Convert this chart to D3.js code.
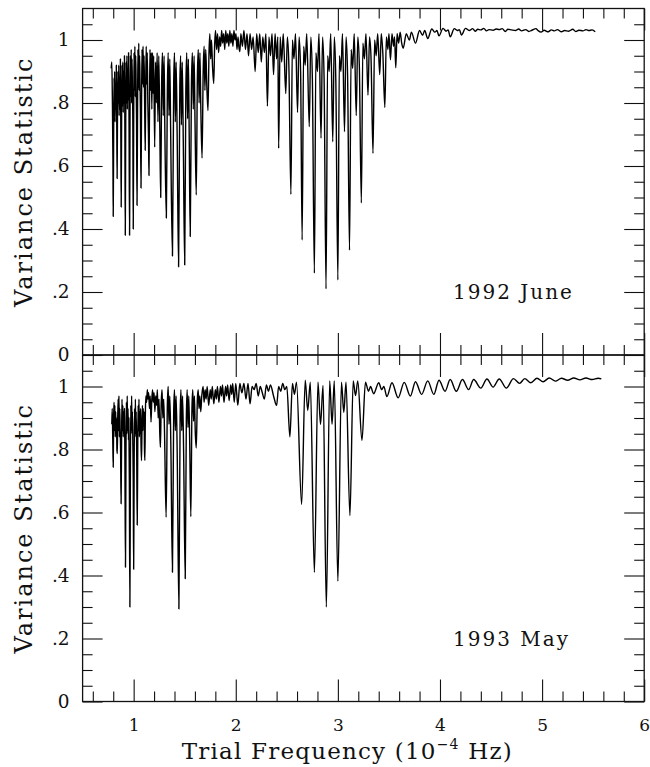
<!DOCTYPE html>
<html>
<head>
<meta charset="utf-8">
<script src="https://cdn.jsdelivr.net/npm/d3@7"></script>
<style>
  body { margin: 0; background: #fff; }
  svg { display: block; }
  text { font-family: "DejaVu Serif", serif; fill: #111; }
</style>
</head>
<body>
<div id="chart"></div>
<script>
'use strict';

// [trial frequency (1e-4 Hz), variance statistic]
const june1992 = [
  [0.780, 0.91], [0.786, 0.93], [0.792, 0.80], [0.797, 0.62], [0.800, 0.44], [0.804, 0.70], [0.808, 0.88],
  [0.811, 0.78], [0.814, 0.90], [0.818, 0.74], [0.822, 0.86], [0.826, 0.78], [0.830, 0.92], [0.834, 0.76],
  [0.838, 0.56], [0.842, 0.78], [0.846, 0.90], [0.850, 0.80], [0.854, 0.92], [0.858, 0.76], [0.862, 0.88],
  [0.866, 0.78], [0.870, 0.94], [0.874, 0.74], [0.878, 0.47], [0.882, 0.74], [0.886, 0.92], [0.890, 0.79],
  [0.894, 0.93], [0.898, 0.77], [0.902, 0.90], [0.906, 0.80], [0.910, 0.95], [0.914, 0.72], [0.918, 0.38],
  [0.922, 0.70], [0.926, 0.93], [0.930, 0.80], [0.934, 0.95], [0.938, 0.78], [0.942, 0.91], [0.946, 0.81],
  [0.950, 0.96], [0.955, 0.73], [0.960, 0.38], [0.964, 0.72], [0.968, 0.95], [0.972, 0.82], [0.976, 0.97],
  [0.980, 0.80], [0.984, 0.94], [0.988, 0.84], [0.992, 0.74], [0.996, 0.40], [1.000, 0.72], [1.004, 0.96],
  [1.008, 0.84], [1.012, 0.98], [1.016, 0.82], [1.020, 0.95], [1.024, 0.86], [1.028, 0.76], [1.033, 0.475],
  [1.038, 0.76], [1.042, 0.97], [1.046, 0.85], [1.050, 0.99], [1.054, 0.84], [1.058, 0.95], [1.062, 0.87],
  [1.066, 0.78], [1.072, 0.53], [1.077, 0.78], [1.082, 0.97], [1.087, 0.86], [1.092, 0.98], [1.097, 0.85],
  [1.102, 0.95], [1.107, 0.82], [1.113, 0.65], [1.118, 0.84], [1.123, 0.98], [1.128, 0.86], [1.133, 0.96],
  [1.139, 0.80], [1.145, 0.70], [1.150, 0.57], [1.155, 0.78], [1.160, 0.97], [1.166, 0.84], [1.172, 0.96],
  [1.178, 0.78], [1.184, 0.96], [1.190, 0.83], [1.196, 0.95], [1.206, 0.66], [1.214, 0.93], [1.222, 0.80],
  [1.230, 0.96], [1.238, 0.74], [1.246, 0.95], [1.256, 0.72], [1.265, 0.50], [1.274, 0.86], [1.282, 0.96],
  [1.290, 0.76], [1.298, 0.95], [1.306, 0.70], [1.320, 0.435], [1.330, 0.84], [1.338, 0.96], [1.346, 0.76],
  [1.354, 0.94], [1.362, 0.72], [1.380, 0.314], [1.392, 0.86], [1.400, 0.96], [1.408, 0.74], [1.416, 0.93],
  [1.426, 0.70], [1.440, 0.28], [1.452, 0.85], [1.460, 0.95], [1.468, 0.73], [1.476, 0.93], [1.486, 0.68],
  [1.500, 0.286], [1.511, 0.84], [1.520, 0.96], [1.528, 0.75], [1.536, 0.94], [1.544, 0.70], [1.554, 0.376],
  [1.566, 0.86], [1.575, 0.96], [1.584, 0.78], [1.592, 0.95], [1.601, 0.74], [1.613, 0.508], [1.624, 0.88],
  [1.633, 0.97], [1.641, 0.80], [1.649, 0.96], [1.658, 0.78], [1.670, 0.625], [1.681, 0.90], [1.690, 0.98],
  [1.698, 0.84], [1.706, 0.97], [1.716, 0.86], [1.728, 0.776], [1.738, 0.96], [1.746, 1.02], [1.754, 0.94],
  [1.762, 1.00], [1.772, 0.92], [1.784, 0.862], [1.794, 0.99], [1.802, 1.03], [1.812, 0.97], [1.822, 1.02],
  [1.832, 0.96], [1.842, 1.01], [1.852, 0.98], [1.862, 1.03], [1.872, 0.99], [1.882, 1.02], [1.892, 0.97],
  [1.902, 1.03], [1.912, 0.99], [1.922, 1.02], [1.932, 0.98], [1.942, 1.03], [1.952, 0.99], [1.962, 1.02],
  [1.972, 0.98], [1.982, 1.03], [1.992, 1.00], [2.002, 1.02], [2.012, 0.97], [2.022, 1.01], [2.030, 0.98],
  [2.040, 0.963], [2.050, 1.02], [2.065, 0.98], [2.080, 1.03], [2.095, 0.97], [2.110, 1.02], [2.125, 0.95],
  [2.140, 1.02], [2.155, 0.97], [2.170, 1.01], [2.190, 0.90], [2.205, 1.02], [2.220, 0.96], [2.235, 1.02],
  [2.250, 0.93], [2.265, 1.01], [2.280, 0.96], [2.295, 1.02], [2.310, 0.79], [2.325, 1.01], [2.340, 0.95],
  [2.355, 1.02], [2.370, 0.89], [2.385, 1.02], [2.400, 0.94], [2.412, 1.01], [2.420, 0.656], [2.435, 1.01],
  [2.450, 0.93], [2.465, 1.02], [2.490, 0.83], [2.505, 1.01], [2.520, 0.92], [2.540, 0.51], [2.555, 1.00],
  [2.570, 0.94], [2.585, 1.02], [2.605, 0.77], [2.620, 1.01], [2.635, 0.90], [2.650, 0.365], [2.665, 0.98],
  [2.680, 0.92], [2.695, 1.02], [2.720, 0.725], [2.735, 1.01], [2.750, 0.88], [2.770, 0.26], [2.785, 0.96],
  [2.800, 0.90], [2.815, 1.02], [2.835, 0.688], [2.850, 1.01], [2.865, 0.88], [2.884, 0.21], [2.900, 0.95],
  [2.915, 0.90], [2.930, 1.02], [2.950, 0.677], [2.965, 1.01], [2.980, 0.87], [3.000, 0.238], [3.015, 0.95],
  [3.030, 0.90], [3.045, 1.02], [3.065, 0.709], [3.080, 1.01], [3.095, 0.89], [3.114, 0.333], [3.130, 0.97],
  [3.145, 0.91], [3.160, 1.02], [3.180, 0.76], [3.195, 1.01], [3.210, 0.92], [3.230, 0.483], [3.245, 0.99],
  [3.260, 0.94], [3.275, 1.02], [3.295, 0.825], [3.310, 1.01], [3.325, 0.94], [3.344, 0.64], [3.360, 1.00],
  [3.375, 0.95], [3.390, 1.02], [3.410, 0.89], [3.425, 1.02], [3.440, 0.96], [3.460, 0.786], [3.475, 1.01],
  [3.490, 0.97], [3.500, 1.02], [3.515, 0.937], [3.530, 1.02], [3.545, 0.98], [3.555, 1.01], [3.567, 0.912],
  [3.580, 1.02], [3.595, 0.99], [3.610, 1.025], [3.625, 0.99], [3.640, 0.974], [3.670, 1.02], [3.700, 1.00],
  [3.720, 1.025], [3.760, 0.99], [3.800, 1.03], [3.830, 1.015], [3.850, 1.03], [3.880, 1.005], [3.920, 1.035],
  [3.950, 1.025], [3.970, 1.03], [3.990, 1.013], [4.030, 1.037], [4.060, 1.028], [4.080, 1.032], [4.100, 1.01],
  [4.140, 1.036], [4.170, 1.03], [4.190, 1.033], [4.210, 1.016], [4.250, 1.037], [4.290, 1.030], [4.320, 1.036],
  [4.345, 1.028], [4.370, 1.034], [4.400, 1.032], [4.430, 1.037], [4.455, 1.029], [4.480, 1.033], [4.520, 1.031],
  [4.550, 1.035], [4.580, 1.033], [4.610, 1.036], [4.640, 1.027], [4.665, 1.034], [4.700, 1.032], [4.740, 1.030],
  [4.770, 1.035], [4.800, 1.029], [4.840, 1.033], [4.870, 1.027], [4.900, 1.031], [4.940, 1.036], [4.960, 1.030],
  [4.990, 1.025], [5.020, 1.031], [5.060, 1.026], [5.090, 1.032], [5.120, 1.029], [5.150, 1.033], [5.190, 1.026],
  [5.220, 1.030], [5.260, 1.028], [5.300, 1.034], [5.330, 1.027], [5.360, 1.031], [5.400, 1.029], [5.430, 1.033],
  [5.460, 1.030], [5.490, 1.032], [5.520, 1.026]
];

const may1993 = [
  [0.786, 0.88], [0.790, 0.93], [0.795, 0.84], [0.800, 0.744], [0.804, 0.90], [0.808, 0.95], [0.812, 0.86],
  [0.816, 0.94], [0.820, 0.84], [0.824, 0.92], [0.828, 0.85], [0.832, 0.90], [0.836, 0.80], [0.840, 0.787],
  [0.844, 0.90], [0.848, 0.96], [0.852, 0.86], [0.856, 0.97], [0.860, 0.84], [0.864, 0.93], [0.868, 0.86],
  [0.872, 0.80], [0.877, 0.628], [0.882, 0.84], [0.886, 0.96], [0.890, 0.86], [0.894, 0.94], [0.898, 0.84],
  [0.902, 0.92], [0.906, 0.85], [0.910, 0.93], [0.914, 0.78], [0.920, 0.426], [0.925, 0.80], [0.929, 0.95],
  [0.933, 0.85], [0.937, 0.97], [0.941, 0.86], [0.945, 0.93], [0.949, 0.83], [0.953, 0.90], [0.958, 0.70],
  [0.963, 0.30], [0.968, 0.72], [0.972, 0.94], [0.976, 0.85], [0.980, 0.97], [0.984, 0.86], [0.988, 0.92],
  [0.992, 0.82], [0.996, 0.70], [1.000, 0.42], [1.005, 0.76], [1.009, 0.93], [1.013, 0.84], [1.017, 0.96],
  [1.021, 0.85], [1.025, 0.92], [1.030, 0.78], [1.035, 0.56], [1.040, 0.80], [1.044, 0.94], [1.048, 0.86],
  [1.052, 0.96], [1.056, 0.84], [1.060, 0.92], [1.064, 0.85], [1.068, 0.93], [1.072, 0.82], [1.077, 0.765],
  [1.082, 0.88], [1.086, 0.94], [1.090, 0.86], [1.094, 0.93], [1.098, 0.88], [1.102, 0.92], [1.106, 0.80],
  [1.110, 0.765], [1.115, 0.92], [1.120, 0.97], [1.127, 0.95], [1.134, 0.99], [1.140, 0.96], [1.147, 0.98],
  [1.155, 0.93], [1.162, 0.97], [1.170, 0.887], [1.178, 0.96], [1.185, 0.99], [1.192, 0.95], [1.200, 0.98],
  [1.208, 0.92], [1.216, 0.97], [1.224, 0.94], [1.232, 0.99], [1.240, 0.90], [1.248, 0.96], [1.256, 0.85],
  [1.262, 0.807], [1.270, 0.95], [1.278, 0.99], [1.286, 0.90], [1.294, 0.96], [1.302, 0.86], [1.318, 0.585],
  [1.330, 0.94], [1.338, 1.00], [1.346, 0.88], [1.354, 0.97], [1.364, 0.82], [1.380, 0.41], [1.392, 0.92],
  [1.400, 0.99], [1.408, 0.86], [1.416, 0.97], [1.426, 0.80], [1.443, 0.294], [1.455, 0.90], [1.463, 0.99],
  [1.471, 0.86], [1.479, 0.97], [1.489, 0.80], [1.505, 0.39], [1.516, 0.90], [1.524, 0.99], [1.532, 0.87],
  [1.540, 0.97], [1.549, 0.82], [1.560, 0.587], [1.571, 0.93], [1.579, 0.99], [1.587, 0.89], [1.595, 0.97],
  [1.603, 0.86], [1.613, 0.805], [1.624, 0.96], [1.632, 0.99], [1.640, 0.93], [1.648, 0.97], [1.657, 0.92],
  [1.667, 0.97], [1.680, 1.00], [1.690, 0.95], [1.700, 0.99], [1.710, 0.96], [1.720, 1.00], [1.735, 0.94],
  [1.750, 0.99], [1.760, 0.96], [1.770, 1.00], [1.785, 0.945], [1.800, 0.99], [1.810, 0.96], [1.820, 1.00],
  [1.835, 0.95], [1.850, 1.00], [1.860, 0.97], [1.870, 1.005], [1.885, 0.95], [1.900, 1.00], [1.910, 0.97],
  [1.920, 1.005], [1.935, 0.955], [1.950, 1.005], [1.960, 0.975], [1.970, 1.01], [1.985, 0.95], [2.000, 1.01],
  [2.020, 0.94], [2.040, 1.01], [2.060, 0.98], [2.080, 1.01], [2.100, 0.96], [2.120, 1.01], [2.140, 0.945],
  [2.160, 1.00], [2.180, 0.99], [2.200, 1.01], [2.220, 0.97], [2.240, 1.00], [2.260, 0.98], [2.280, 0.96],
  [2.300, 1.005], [2.320, 0.985], [2.340, 1.005], [2.370, 0.97], [2.400, 0.94], [2.420, 1.00], [2.440, 0.985],
  [2.460, 1.01], [2.480, 0.99], [2.500, 1.00], [2.530, 0.84], [2.555, 1.01], [2.575, 0.975], [2.595, 1.014],
  [2.645, 0.625], [2.680, 1.02], [2.705, 0.924], [2.730, 1.014], [2.770, 0.41], [2.805, 1.014], [2.830, 0.88],
  [2.855, 1.003], [2.887, 0.30], [2.920, 1.018], [2.943, 0.88], [2.965, 1.018], [3.000, 0.382], [3.035, 1.014],
  [3.058, 0.918], [3.080, 1.014], [3.118, 0.59], [3.150, 1.018], [3.173, 0.971], [3.195, 1.018], [3.236, 0.829],
  [3.270, 1.014], [3.300, 0.985], [3.320, 1.00], [3.350, 0.977], [3.400, 1.012], [3.430, 0.99], [3.450, 1.00],
  [3.480, 0.968], [3.530, 1.012], [3.590, 0.964], [3.650, 1.013], [3.710, 0.97], [3.760, 1.015], [3.820, 0.975],
  [3.880, 1.018], [3.940, 0.975], [3.990, 1.02], [4.050, 0.985], [4.100, 1.022], [4.160, 0.985], [4.220, 1.022],
  [4.280, 0.99], [4.330, 1.022], [4.400, 0.995], [4.460, 1.024], [4.520, 0.998], [4.580, 1.024], [4.650, 0.995],
  [4.720, 1.025], [4.780, 1.01], [4.830, 1.025], [4.890, 1.012], [4.950, 1.026], [5.010, 1.015], [5.070, 1.027],
  [5.130, 1.017], [5.190, 1.026], [5.250, 1.02], [5.310, 1.027], [5.370, 1.021], [5.430, 1.027], [5.490, 1.022],
  [5.550, 1.026], [5.580, 1.024]
];

const panelLabels = ["1992 June", "1993 May"];
const yMajorTicks = [0, 0.2, 0.4, 0.6, 0.8, 1];
const xMajorTicks = [1, 2, 3, 4, 5, 6];
const yTitle = "Variance Statistic";

const W = 650, H = 767;
const panelTops = [8.5, 355];
const PH = 346.5;
const X0 = 82.6, X1 = 644.2;

const svg = d3.select("#chart").append("svg").attr("width", W).attr("height", H);

const x = d3.scaleLinear().domain([0.5, 6]).range([X0, X1]);
const y = d3.scaleLinear().domain([0, 1.1]).range([PH, 0]);

const yMinorTicks = d3.range(0.05, 1.1, 0.05).filter(v => Math.abs(v * 5 - Math.round(v * 5)) > 1e-6);
const xMinorTicks = d3.range(0.6, 5.9, 0.2).filter(v => Math.abs(v - Math.round(v)) > 1e-6);

const fmtY = d => d === 0 ? "0" : d === 1 ? "1" : d3.format(".1f")(d).replace(/^0/, "");

const line = d3.line()
    .curve(d3.curveMonotoneX)
    .x(d => x(d[0]))
    .y(d => y(d[1]));

function styleAxis(g) {
    g.select(".domain").remove();
    g.selectAll(".tick line").attr("stroke", "#111").attr("stroke-width", 1.1);
}

function drawPanel(i, data) {
    const g = svg.append("g").attr("transform", `translate(0,${panelTops[i]})`);

    // left axis, major ticks with labels
    g.append("g")
        .attr("transform", `translate(${X0},0)`)
        .call(d3.axisLeft(y).tickValues(yMajorTicks).tickSize(-20).tickPadding(13).tickFormat(fmtY))
        .call(styleAxis)
        .selectAll("text").attr("font-size", 18.5).attr("font-family", "DejaVu Serif");
    g.append("g")
        .attr("transform", `translate(${X0},0)`)
        .call(d3.axisLeft(y).tickValues(yMinorTicks).tickSize(-10).tickFormat(""))
        .call(styleAxis);

    // right axis
    g.append("g")
        .attr("transform", `translate(${X1},0)`)
        .call(d3.axisRight(y).tickValues(yMajorTicks).tickSize(-20).tickFormat(""))
        .call(styleAxis);
    g.append("g")
        .attr("transform", `translate(${X1},0)`)
        .call(d3.axisRight(y).tickValues(yMinorTicks).tickSize(-10).tickFormat(""))
        .call(styleAxis);

    // top axis
    g.append("g")
        .call(d3.axisTop(x).tickValues(xMajorTicks).tickSize(-22).tickFormat(""))
        .call(styleAxis);
    g.append("g")
        .call(d3.axisTop(x).tickValues(xMinorTicks).tickSize(-10).tickFormat(""))
        .call(styleAxis);

    // bottom axis
    const bottom = g.append("g")
        .attr("transform", `translate(0,${PH})`)
        .call(d3.axisBottom(x).tickValues(xMajorTicks).tickSize(-22).tickPadding(17)
            .tickFormat(i === 1 ? d3.format("d") : ""))
        .call(styleAxis);
    bottom.selectAll("text").attr("font-size", 17).attr("font-family", "DejaVu Serif");
    g.append("g")
        .attr("transform", `translate(0,${PH})`)
        .call(d3.axisBottom(x).tickValues(xMinorTicks).tickSize(-10).tickFormat(""))
        .call(styleAxis);

    // frame
    g.append("rect")
        .attr("x", X0).attr("y", 0)
        .attr("width", X1 - X0).attr("height", PH)
        .attr("fill", "none").attr("stroke", "#111").attr("stroke-width", 1.3);

    g.append("path")
        .datum(data)
        .attr("d", line)
        .attr("fill", "none")
        .attr("stroke", "#000")
        .attr("stroke-width", 1.4)
        .attr("stroke-linejoin", "round");

    g.append("text")
        .attr("x", 453).attr("y", 290.8)
        .attr("font-size", 20)
        .attr("letter-spacing", 2)
        .text(panelLabels[i]);

    g.append("text")
        .attr("transform", `translate(32,${PH / 2}) rotate(-90)`)
        .attr("text-anchor", "middle")
        .attr("font-size", 24)
        .attr("letter-spacing", 2)
        .text(yTitle);
}

drawPanel(0, june1992);
drawPanel(1, may1993);

// x axis title
const title = svg.append("text")
    .attr("x", (X0 + X1) / 2 - 16).attr("y", 759)
    .attr("text-anchor", "middle")
    .attr("font-size", 23)
    .attr("letter-spacing", 1.2);
title.append("tspan").text("Trial Frequency (10");
title.append("tspan").attr("font-size", 14).attr("dy", -10).text("\u22124");
title.append("tspan").attr("dy", 10).text(" Hz)");
</script>
</body>
</html>
